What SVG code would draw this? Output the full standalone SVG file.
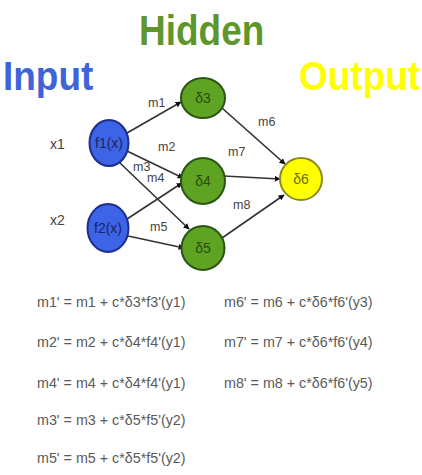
<svg xmlns="http://www.w3.org/2000/svg" width="422" height="475" viewBox="0 0 422 475">
<style>
.title{font-family:"Liberation Sans",Arial,sans-serif;font-weight:bold;font-size:37px}
.lbl{font-family:"Liberation Sans",Arial,sans-serif;font-size:12.5px;fill:#444}
.nt{font-family:"Liberation Sans",Arial,sans-serif;font-size:14px;text-anchor:middle}
.eq{font-family:"Liberation Sans",Arial,sans-serif;font-size:14.3px;fill:#5a5a5a}
.in{fill:#3d63e6;stroke:#1c2f8a;stroke-width:2}
.hid{fill:#5ea422;stroke:#2c5412;stroke-width:2}
.out{fill:#ffff00;stroke:#8a8a20;stroke-width:2}
.e{stroke:#333;stroke-width:1.6;fill:none;marker-end:url(#ah)}
</style>
<defs>
<marker id="ah" viewBox="0 0 10 10" refX="9" refY="5" markerWidth="6" markerHeight="6" orient="auto" markerUnits="userSpaceOnUse">
<path d="M0,0 L10,5 L0,10 z" fill="#111"/>
</marker>
</defs>
<rect width="422" height="475" fill="#fff"/>
<g id="titles">
<text class="title" x="139" y="45" fill="#5f962c" transform="translate(0,45) scale(1,1.15) translate(0,-45)">Hidden</text>
<text class="title" x="3" y="90" fill="#3f63d8" transform="translate(0,90) scale(1,1.1) translate(0,-90)">Input</text>
<text class="title" x="299" y="90" fill="#ffff00" transform="translate(0,90) scale(1,1.1) translate(0,-90)">Output</text>
</g>
<g id="connectors">
<line class="e" x1="127" y1="133" x2="181" y2="102"/>
<line class="e" x1="127" y1="151" x2="183" y2="178"/>
<line class="e" x1="120" y1="163" x2="189" y2="229"/>
<line class="e" x1="127" y1="219" x2="182" y2="183"/>
<line class="e" x1="128" y1="236" x2="184" y2="248"/>
<line class="e" x1="222" y1="108" x2="285" y2="164"/>
<line class="e" x1="224" y1="176" x2="280" y2="179"/>
<line class="e" x1="222" y1="238" x2="284" y2="195"/>
<text class="lbl" x="148" y="107">m1</text>
<text class="lbl" x="158" y="151">m2</text>
<text class="lbl" x="133" y="171">m3</text>
<text class="lbl" x="147" y="182">m4</text>
<text class="lbl" x="150" y="231">m5</text>
<text class="lbl" x="258" y="126">m6</text>
<text class="lbl" x="228" y="156">m7</text>
<text class="lbl" x="233" y="209">m8</text>
</g>
<g id="x1"><text class="lbl" x="50" y="149" style="font-size:14px">x1</text></g>
<g id="x2"><text class="lbl" x="50" y="225" style="font-size:14px">x2</text></g>
<g id="f1"><ellipse class="in" cx="109" cy="143" rx="19.5" ry="23"/><text class="nt" x="109" y="148" fill="#1a2560">f1(x)</text></g>
<g id="f2"><ellipse class="in" cx="108" cy="228" rx="20.5" ry="24"/><text class="nt" x="108" y="233" fill="#1a2560">f2(x)</text></g>
<g id="d3"><ellipse class="hid" cx="203" cy="98" rx="22" ry="20"/><text class="nt" x="203" y="103" fill="#2a4a10">δ3</text></g>
<g id="d4"><ellipse class="hid" cx="203" cy="181" rx="22" ry="23"/><text class="nt" x="203" y="186" fill="#2a4a10">δ4</text></g>
<g id="d5"><ellipse class="hid" cx="203" cy="248" rx="21.5" ry="22"/><text class="nt" x="203" y="253" fill="#2a4a10">δ5</text></g>
<g id="d6"><ellipse class="out" cx="301" cy="179" rx="21" ry="21"/><text class="nt" x="301" y="184" fill="#6a6a10">δ6</text></g>
<g id="equations">
<text class="eq" x="37" y="307">m1' = m1 + c*δ3*f3'(y1)</text>
<text class="eq" x="37" y="347">m2' = m2 + c*δ4*f4'(y1)</text>
<text class="eq" x="37" y="388">m4' = m4 + c*δ4*f4'(y1)</text>
<text class="eq" x="37" y="425">m3' = m3 + c*δ5*f5'(y2)</text>
<text class="eq" x="37" y="463">m5' = m5 + c*δ5*f5'(y2)</text>
<text class="eq" x="224" y="307">m6' = m6 + c*δ6*f6'(y3)</text>
<text class="eq" x="224" y="347">m7' = m7 + c*δ6*f6'(y4)</text>
<text class="eq" x="224" y="388">m8' = m8 + c*δ6*f6'(y5)</text>
</g>
</svg>
